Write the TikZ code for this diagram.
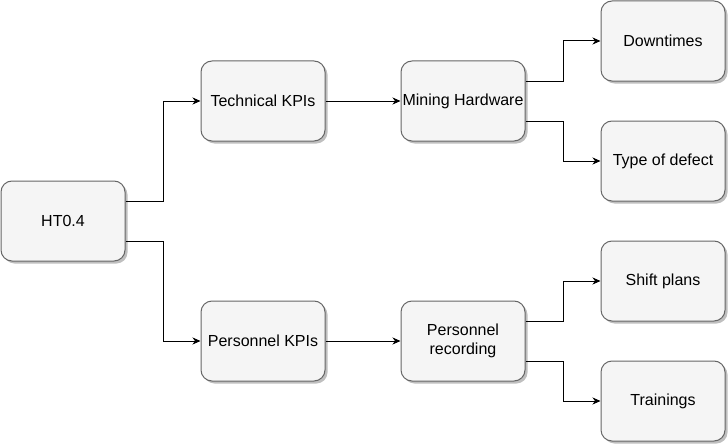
\documentclass[tikz,border=0pt]{standalone}
\usepackage{fontspec}
\setmainfont{Liberation Sans}
\usepackage{tikz}
\usetikzlibrary{arrows, arrows.meta, shadows}
\definecolor{boxfill}{HTML}{F5F5F5}
\definecolor{boxline}{HTML}{666666}

\begin{document}
\begin{tikzpicture}[x=1pt, y=-1pt]
\tikzstyle{kpibox} = [rectangle, rounded corners=11pt, minimum width=124pt, minimum height=80pt, inner xsep=0pt, text centered, align=center, draw=boxline, line width=1pt, fill=boxfill, font=\fontsize{16}{18.5}\selectfont, drop shadow={shadow xshift=2.5pt, shadow yshift=-2.5pt, fill=black, opacity=0.25}]
\tikzstyle{arrow} = [line width=1pt, ->, >={Stealth[length=8pt, width=7pt, inset=2.5pt]}]

\useasboundingbox (0,0) rectangle (728,444);

% Boxes
\node[kpibox] (ht) at (63,221) {HT0.4};
\node[kpibox] (tech) at (263,101) {Technical KPIs};
\node[kpibox] (hardware) at (463,101) {Mining Hardware};
\node[kpibox] (downtimes) at (663,41) {Downtimes};
\node[kpibox] (defect) at (663,161) {Type of defect};

\node[kpibox] (personnel) at (263,341) {Personnel KPIs};
\node[kpibox] (recording) at (463,341) {Personnel\\recording};
\node[kpibox] (shift) at (663,281) {Shift plans};
\node[kpibox] (trainings) at (663,401) {Trainings};

% Arrows
\draw[arrow] ([yshift=20pt]ht.east) -- ++(38,0) |- (tech.west);
\draw[arrow] ([yshift=-20pt]ht.east) -- ++(38,0) |- (personnel.west);
\draw[arrow] (tech) -- (hardware);
\draw[arrow] (personnel) -- (recording);
\draw[arrow] ([yshift=20pt]hardware.east) -- ++(38,0) |- (downtimes.west);
\draw[arrow] ([yshift=-20pt]hardware.east) -- ++(38,0) |- (defect.west);
\draw[arrow] ([yshift=20pt]recording.east) -- ++(38,0) |- (shift.west);
\draw[arrow] ([yshift=-20pt]recording.east) -- ++(38,0) |- (trainings.west);
\end{tikzpicture}
\end{document}
